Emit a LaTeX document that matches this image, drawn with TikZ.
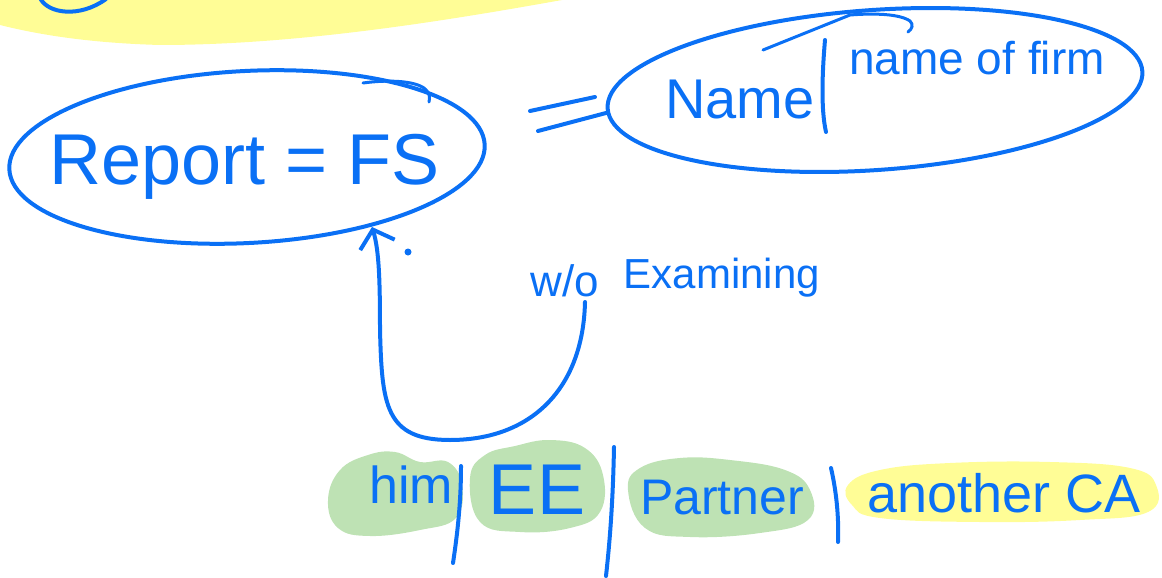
\documentclass[tikz,border=0pt]{standalone}
\usepackage{fontspec}
\setmainfont{Liberation Sans}
\usetikzlibrary{arrows.meta}
\definecolor{ink}{RGB}{10,112,245}
\definecolor{hlgreen}{RGB}{190,226,180}
\definecolor{hlyellow}{RGB}{255,253,150}
\tikzset{
  pen/.style={draw=ink, line width=4pt, line cap=round, line join=round},
  thinpen/.style={draw=ink, line width=3pt, line cap=round, line join=round},
  hand/.style={text=ink, inner sep=0pt, font=\fontsize{#1}{#1}\selectfont},
  blob/.style={fill=#1, draw=none},
}
\begin{document}
\begin{tikzpicture}[x=1pt,y=-1pt]
\useasboundingbox (0,0) rectangle (1162,578);
% highlights
\fill[hlyellow] (0,0) -- (562,0) .. controls (450,20) and (300,45) .. (160,45) .. controls (90,43) and (40,35) .. (0,25) -- cycle;
\path[blob=hlgreen] plot[smooth cycle, tension=0.7] coordinates {(328,500) (340,470) (368,455) (395,452) (420,462) (448,462) (462,485) (456,518) (420,530) (370,536) (338,528)};
\path[blob=hlgreen] plot[smooth cycle, tension=0.7] coordinates {(470,478) (485,455) (515,446) (550,440) (585,448) (603,475) (600,512) (570,528) (520,532) (480,522)};
\path[blob=hlgreen] plot[smooth cycle, tension=0.7] coordinates {(628,490) (640,468) (680,458) (730,460) (785,470) (810,490) (808,520) (760,533) (690,537) (645,528)};
\path[blob=hlyellow] plot[smooth cycle, tension=0.7] coordinates {(848,485) (880,470) (950,463) (1050,462) (1130,468) (1156,485) (1148,512) (1080,520) (980,522) (880,518) (852,505)};
% top leftover stroke
\draw[pen] (40,-2) .. controls (48,14) and (80,18) .. (106,-1);
% left ellipse
\node[hand=72] (report) at (245,167) {Report = FS};
\draw[pen, rotate around={3:(247,157)}] (247,157) ellipse [x radius=238, y radius=86];
\draw[thinpen] (363,83) .. controls (385,80) and (412,80) .. (424,88) .. controls (430,93) and (430,97) .. (429,102);
% equals
\draw[pen] (530,111) -- (595,97);
\draw[pen] (538,131) -- (606,113);
% right ellipse
\node[hand=56] (nm) at (740,100) {Name};
\node[hand=46] (firm) at (977,58) {name of firm};
\draw[pen] (825,40) .. controls (822,75) and (821,110) .. (826,132);
\draw[pen, rotate around={4:(875,90)}] (875,90) ellipse [x radius=268, y radius=80];
\draw[thinpen] (763,50) -- (850,15) .. controls (875,13) and (900,14) .. (910,21) .. controls (914,25) and (912,29) .. (908,32);
% note and arrow
\node[hand=44] (wo) at (565,281) {w/o};
\node[hand=42] (exam) at (722,278) {Examining};
\coordinate (start) at (585,302);
\coordinate (tip) at (372,227);
\draw[pen, -{Straight Barb[length=16pt, width=36pt]}] (start) .. controls (583,390) and (530,440) .. (450,440) .. controls (385,440) and (382,405) .. (380,330) .. controls (380,280) and (379,250) .. (tip);
\fill[ink] (408,252) circle (3.5);
% bottom row
\node[hand=52] (him) at (411,485) {him};
\node[hand=72] (ee) at (537,490) {EE};
\node[hand=50] (partner) at (722,498) {Partner};
\node[hand=54] (another) at (1004,493) {another CA};
\draw[pen] (461,466) .. controls (461,500) and (458,530) .. (453,563);
\draw[pen] (614,447) .. controls (613,500) and (610,540) .. (606,576);
\draw[pen] (831,468) .. controls (836,490) and (839,515) .. (838,542);
\end{tikzpicture}
\end{document}
